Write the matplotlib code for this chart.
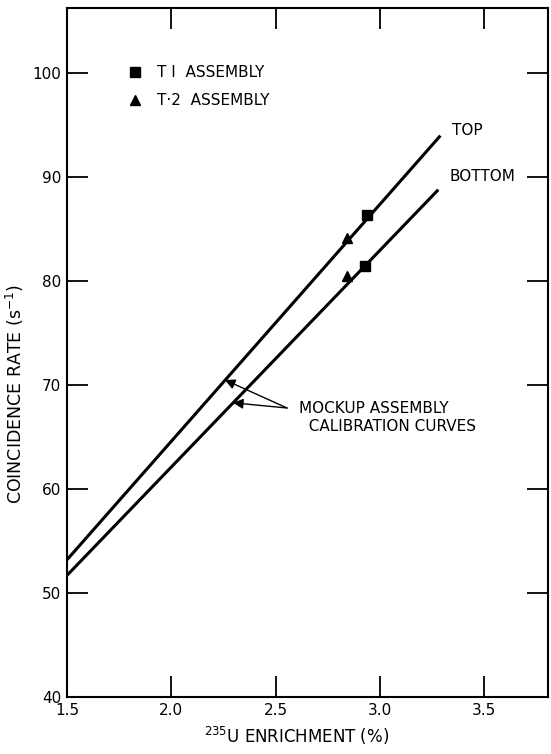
import matplotlib
matplotlib.use("Agg")
import matplotlib.pyplot as plt

# calibration curves (mockup assembly), endpoints of the straight fits
top_enrich = [1.5, 3.29]
top_rate = [53.2, 94.0]
bottom_enrich = [1.5, 3.28]
bottom_rate = [51.7, 88.8]

# measured assemblies: top / bottom positions
t1_enrich = [2.94, 2.93]
t1_rate = [86.4, 81.5]
t2_enrich = [2.84, 2.84]
t2_rate = [84.2, 80.5]

x_ticks = [1.5, 2.0, 2.5, 3.0, 3.5]
x_labels = ["1.5", "2.0", "2.5", "3.0", "3.5"]
y_ticks = [40, 50, 60, 70, 80, 90, 100]

plt.rcParams['font.family'] = ['DejaVu Sans']
fig = plt.figure(figsize=(5.51, 7.54), dpi=100)
ax = fig.add_axes([0.1216, 0.0756, 0.873, 0.9134])

ax.plot(top_enrich, top_rate, color='black', lw=2.2, solid_capstyle='butt')
ax.plot(bottom_enrich, bottom_rate, color='black', lw=2.2, solid_capstyle='butt')
ax.plot(t1_enrich, t1_rate, ls='none', marker='s', ms=7, color='black')
ax.plot(t2_enrich, t2_rate, ls='none', marker='^', ms=7, color='black')

ax.set_xlim(1.5, 3.806)
ax.set_ylim(40, 106.25)
ax.set_xticks(x_ticks)
ax.set_xticklabels(x_labels)
ax.set_yticks(y_ticks)
ax.tick_params(direction='in', length=15, width=1.3, top=True, right=True,
               labelsize=11, pad=4)
for s in ax.spines.values():
    s.set_linewidth(1.5)

ax.set_ylabel("COINCIDENCE RATE (s$^{-1}$)", fontsize=12.5)
ax.yaxis.set_label_coords(-0.085, 0.44)
ax.set_xlabel("$^{235}$U ENRICHMENT (%)", fontsize=12)
ax.xaxis.set_label_coords(0.478, -0.04)

# legend drawn by hand
ax.plot([1.826], [100.1], marker='s', ms=7, color='black')
ax.text(1.93, 100.1, "T I  ASSEMBLY", fontsize=11, va='center')
ax.plot([1.826], [97.4], marker='^', ms=7, color='black')
ax.text(1.93, 97.4, "T\u00b72  ASSEMBLY", fontsize=11, va='center')

ax.text(3.346, 94.5, "TOP", fontsize=11, va='center')
ax.text(3.336, 90.1, "BOTTOM", fontsize=11, va='center')

ax.text(2.61, 66.9, "MOCKUP ASSEMBLY\n  CALIBRATION CURVES", fontsize=11,
        va='center', linespacing=1.2)
for xy in [(2.257, 70.5), (2.296, 68.3)]:
    ax.annotate("", xy=xy, xytext=(2.555, 67.8),
                arrowprops=dict(arrowstyle='-|>', color='black', lw=1.0,
                                mutation_scale=15, shrinkA=0, shrinkB=0))

fig.savefig("out.png", dpi=100)
